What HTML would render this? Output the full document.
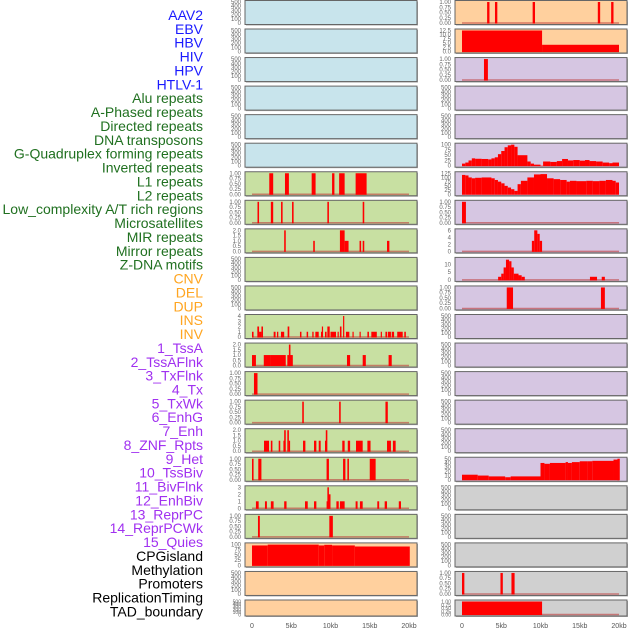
<!DOCTYPE html>
<html><head><meta charset="utf-8">
<style>
html,body{margin:0;padding:0;background:#fff;}
svg{display:block;font-family:"Liberation Sans",sans-serif;}
</style></head>
<body>
<svg id="chart" width="630" height="630" viewBox="0 0 630 630" xmlns="http://www.w3.org/2000/svg"></svg>
<script>
// ---- labels ----
const labels = ["AAV2","EBV","HBV","HIV","HPV","HTLV-1","Alu repeats","A-Phased repeats","Directed repeats","DNA transposons","G-Quadruplex forming repeats","Inverted repeats","L1 repeats","L2 repeats","Low_complexity A/T rich regions","Microsatellites","MIR repeats","Mirror repeats","Z-DNA motifs","CNV","DEL","DUP","INS","INV","1_TssA","2_TssAFlnk","3_TxFlnk","4_Tx","5_TxWk","6_EnhG","7_Enh","8_ZNF_Rpts","9_Het","10_TssBiv","11_BivFlnk","12_EnhBiv","13_ReprPC","14_ReprPCWk","15_Quies","CPGisland","Methylation","Promoters","ReplicationTiming","TAD_boundary"];
const labelGroups = ["v","v","v","v","v","v","r","r","r","r","r","r","r","r","r","r","r","r","r","s","s","s","s","s","c","c","c","c","c","c","c","c","c","c","c","c","c","c","c","o","o","o","o","o"];
const xTicks = [0,5,10,15,20];
const xTickLabels = ["0","5kb","10kb","15kb","20kb"];
// ---- tick sets ----
const T500 = [0,100,200,300,400,500];
const T1 = [0,0.25,0.5,0.75,1];
const T2 = [0,0.5,1,1.5,2];
const T4 = [0,1,2,3,4];
const T3 = [0,1,2,3];
const TEBV = [0,2.5,5,7.5,10,12.5];
const TGQ = [0,25,50,75,100];
const TL1 = [0,25,50,75,100,125];
const TMIR = [0,2,4,6];
const TZ = [0,5,10];
const THET = [0,10,20,30,40,50];
// ---- data: [startKb, endKb, value] ----
const aavRight = [[3.2,3.5,1],[4.2,4.5,1],[9.0,9.3,1],[17.3,17.6,1],[19.0,19.3,1]];
const ebvRight = [[0,10.2,12.5],[10.2,20.0,4]];
const hbvRight = [[2.8,3.3,1]];
const gquadRight = [[0,0.42,10],[0.42,0.83,15],[0.83,1.25,25],[1.25,1.67,35],[1.67,2.5,33],[2.5,3.33,32],[3.33,3.75,30],[3.75,4.17,35],[4.17,4.58,40],[4.58,5,55],[5,5.42,70],[5.42,5.83,88],[5.83,6.25,97],[6.25,6.67,100],[6.67,7.08,90],[7.08,8.33,50],[8.33,8.75,20],[8.75,9.17,10],[9.17,10,5],[10,10.33,0],[10.33,11.25,20],[11.25,12.08,18],[12.08,12.75,22],[12.75,13.5,32],[13.5,14.17,25],[14.17,15,27],[15,15.67,24],[15.67,16.25,27],[16.25,17.08,22],[17.08,17.92,20],[17.92,18.75,15],[18.75,19.17,12],[19.17,20,15]];
const l1Right = [[0,0.42,115],[0.42,0.83,112],[0.83,1.25,100],[1.25,1.67,95],[1.67,2.5,98],[2.5,3.75,100],[3.75,4.17,95],[4.17,4.58,85],[4.58,5,75],[5,5.42,65],[5.42,5.83,50],[5.83,6.25,40],[6.25,6.67,30],[6.67,7.08,20],[7.08,7.5,60],[7.5,8.33,80],[8.33,9.17,100],[9.17,10,118],[10,10.83,120],[10.83,11.67,95],[11.67,12.5,90],[12.5,13.33,85],[13.33,13.75,75],[13.75,14.58,80],[14.58,15.83,78],[15.83,16.67,80],[16.67,17.5,78],[17.5,18.33,80],[18.33,19.17,85],[19.17,19.58,80],[19.58,20,70]];
const lowRight = [[0,0.5,1]];
const mirRight = [[8.9,9.2,3],[9.2,9.6,6],[9.6,9.9,5],[9.9,10.2,3]];
const zdnaRight = [[4.6,5.0,2],[5.0,5.3,4],[5.3,5.6,8],[5.6,6.0,13],[6.0,6.3,12],[6.3,6.6,8],[6.6,7.2,4],[7.2,7.6,3],[7.6,8.0,2],[16.3,17.2,2],[17.8,18.2,2]];
const delRight = [[5.7,6.5,1],[17.7,18.2,1]];
const hetRight = [[0,2,12],[2,3.4,10],[3.4,5.5,8],[5.5,6.2,6],[6.2,10,8],[10,10.5,40],[10.5,11.2,38],[11.2,13.2,40],[13.2,13.5,42],[13.5,14,40],[14,15,42],[15,16,44],[16,16.6,44],[16.6,19.3,45],[19.3,20,48],[19.8,20.1,50]];
const promRight = [[0,0.3,1],[4.9,5.2,1],[6.3,6.7,1]];
const tadRight = [[0,10.2,1]];
const l1Left = [[2.2,2.7,1],[4.2,4.7,1],[7.6,8.1,1],[10.2,10.5,1],[11.1,11.8,1],[13.2,14.6,1]];
const lowLeft = [[0.7,0.9,1],[2.4,2.7,1],[3.7,3.9,1],[5.1,5.3,1],[9.6,9.8,1],[14.1,14.3,1]];
const mirLeft = [[4.1,4.3,2],[7.8,8.0,1],[11.2,11.8,2],[11.8,12.3,1],[13.7,13.9,1],[14.1,14.3,1],[17.2,17.5,1]];
const insLeft = [[0.0,0.2,1],[0.68,0.9,2],[0.9,1.2,1],[1.2,1.4,2],[2.76,3.0,1],[3.18,3.35,1],[3.69,4.1,1],[4.54,4.75,2],[6.11,6.3,1],[6.96,7.15,1],[7.68,7.85,1],[8.07,8.5,1],[8.79,9.0,1],[8.9,9.05,2],[9.3,9.5,1],[9.6,9.9,2],[10.0,10.7,1],[10.9,11.05,1],[11.2,11.4,2],[11.6,11.75,4],[11.97,12.4,1],[12.8,12.95,1],[13.7,13.85,1],[14.7,14.9,1],[15.2,15.9,1],[16.4,16.55,1],[17.0,17.2,1],[17.3,17.7,1],[17.8,18.1,1],[18.5,19.2,1],[19.4,19.6,1]];
const tssaLeft = [[0.0,0.5,1],[1.5,2.3,1],[2.3,4.3,1],[4.5,5.2,1],[4.7,4.9,2],[12.1,12.5,1],[14.1,14.5,1],[17.4,17.8,1]];
const txflnkLeft = [[0.25,0.7,1]];
const txLeft = [[6.4,6.6,1],[11.1,11.3,1],[17.0,17.3,1]];
const enhLeft = [[1.53,2.17,1],[2.4,2.6,1],[3.4,3.6,1],[4.0,4.1,1],[4.1,4.3,2],[4.5,4.7,2],[4.7,4.8,1],[6.5,6.8,1],[7.9,8.2,1],[8.5,8.75,1],[9.3,9.4,1],[9.4,9.6,2],[11.5,11.8,1],[12.2,12.5,1],[13.25,14.1,1],[14.7,15.1,1],[17.2,17.7,1],[17.95,18.3,1]];
const tssbivLeft = [[0,0.2,1],[0.8,1.2,1],[9.5,9.8,1],[11.6,11.9,1],[12.15,12.35,1],[15.0,15.75,1]];
const bivflnkLeft = [[0.5,0.85,1],[1.65,1.9,1],[2.4,2.75,1],[4.1,4.4,1],[6.75,7.1,1],[7.9,8.2,1],[9.5,9.9,1],[9.7,10.0,2],[9.6,9.8,3],[10.75,11.05,1],[11.2,11.8,1],[13.2,13.45,1],[13.75,14.1,1],[15.96,16.2,1],[16.9,17.2,1],[18.7,18.98,1]];
const enhbivLeft = [[0.76,1.0,1],[9.85,10.3,1]];
const cpgLeft = [[0,2,95],[2,8.5,99],[8.5,9.2,95],[9.2,10.2,98],[10.2,13.1,95],[13.1,20.1,90]];
// ---- colors ----
const BLUE="#c8e4ec", GREEN="#c8e0a2", PEACH="#ffd09e", PURP="#d6c6e2", GRAY="#d0d0d0";
const panels = [
 [{bg:BLUE,t:T500},{bg:PEACH,t:T1,d:aavRight}],
 [{bg:BLUE,t:T500},{bg:PEACH,t:TEBV,d:ebvRight,f:1}],
 [{bg:BLUE,t:T500},{bg:PURP,t:T1,d:hbvRight}],
 [{bg:BLUE,t:T500},{bg:PURP,t:T500}],
 [{bg:BLUE,t:T500},{bg:PURP,t:T500}],
 [{bg:BLUE,t:T500},{bg:PURP,t:TGQ,d:gquadRight,nb:1}],
 [{bg:GREEN,t:T1,d:l1Left},{bg:PURP,t:TL1,d:l1Right,nb:1}],
 [{bg:GREEN,t:T1,d:lowLeft},{bg:PURP,t:T1,d:lowRight}],
 [{bg:GREEN,t:T2,d:mirLeft,f:1},{bg:PURP,t:TMIR,d:mirRight}],
 [{bg:GREEN,t:T500},{bg:PURP,t:TZ,d:zdnaRight,max:13.5}],
 [{bg:GREEN,t:T500},{bg:PURP,t:T1,d:delRight}],
 [{bg:GREEN,t:T4,d:insLeft},{bg:PURP,t:T500}],
 [{bg:GREEN,t:T2,d:tssaLeft,f:1},{bg:PURP,t:T500}],
 [{bg:GREEN,t:T1,d:txflnkLeft},{bg:PURP,t:T500}],
 [{bg:GREEN,t:T1,d:txLeft},{bg:PURP,t:T500}],
 [{bg:GREEN,t:T2,d:enhLeft,f:1},{bg:PURP,t:T500}],
 [{bg:GREEN,t:T1,d:tssbivLeft},{bg:PURP,t:THET,d:hetRight,nb:1}],
 [{bg:GREEN,t:T3,d:bivflnkLeft},{bg:GRAY,t:T500}],
 [{bg:GREEN,t:T1,d:enhbivLeft},{bg:GRAY,t:T500}],
 [{bg:PEACH,t:TGQ,d:cpgLeft,nb:1},{bg:GRAY,t:T500}],
 [{bg:PEACH,t:T500},{bg:GRAY,t:T1,d:promRight}],
 [{bg:PEACH,t:T500},{bg:GRAY,t:T1,d:tadRight}]
];
const NS="http://www.w3.org/2000/svg";
const svg=document.getElementById('chart');
function el(tag,attrs,parent){const e=document.createElementNS(NS,tag);for(const k in attrs)e.setAttribute(k,attrs[k]);(parent||svg).appendChild(e);return e;}
const colorMap={v:"#1a1aff",r:"#207020",s:"#ffa520",c:"#a030f0",o:"#000000"};
labels.forEach((t,i)=>{
  const e=el('text',{x:203,y:15+i*13.87+5,'text-anchor':'end','font-size':'14',fill:colorMap[labelGroups[i]]});
  e.textContent=t;
  
  
});
const colX=[245,455], colW=172, kbPx=7.85, dataX0=[252,462];
function xScale(col,kb){return dataX0[col]+kb*kbPx;}
function fmt(v,ticks){const mx=ticks[ticks.length-1];
  if(mx===1)return v.toFixed(2);
  if(ticks.some(t=>t%1!==0))return v.toFixed(1);
  return String(v);}
panels.forEach((row,i)=>{
  const top = i===0?0.5:29+(i-1)*28.55;
  const h = i===21?16:24;
  row.forEach((p,c)=>{
    const g=el('g',{});
    
    
    el('rect',{x:colX[c]+1,y:top+1,width:colW,height:h,fill:'#aaa'},g);
    el('rect',{x:colX[c],y:top,width:colW,height:h,fill:p.bg,stroke:'#666','stroke-width':1},g);
    const max=p.max||p.t[p.t.length-1];
    const y0=top+h-1.5, y1=top+1.5;
    const yS=v=>y0-(v/max)*(y0-y1);
    p.t.forEach(v=>{
      const tx=el('text',{x:colX[c]-4,y:yS(v)+2,'text-anchor':'end','font-size':h<20?'5':'6',fill:'#666'},g);
      tx.textContent=fmt(v,p.t);
      
      
    });
    if(p.d){
      if(!p.nb){
        const b=el('line',{x1:xScale(c,0),x2:xScale(c,20),y1:y0,y2:y0,stroke:'rgba(190,60,60,0.6)','stroke-width':1.5},g);
        
        
      }
      p.d.forEach(d=>{
        const x=xScale(c,d[0]), w=Math.max(1.2,xScale(c,d[1])-x);
        const r=el('rect',{x:x,y:yS(d[2]),width:w,height:y0-yS(d[2])+0.5,fill:'#ff0000'},g);
        
        
      });
    }
  });
});
[0,1].forEach(c=>{
  xTicks.forEach((k,j)=>{
    const t=el('text',{x:xScale(c,k),y:628,'text-anchor':'middle','font-size':'7',fill:'#555'});
    t.textContent=xTickLabels[j];
    
    
  });
});
</script>
</body></html>
